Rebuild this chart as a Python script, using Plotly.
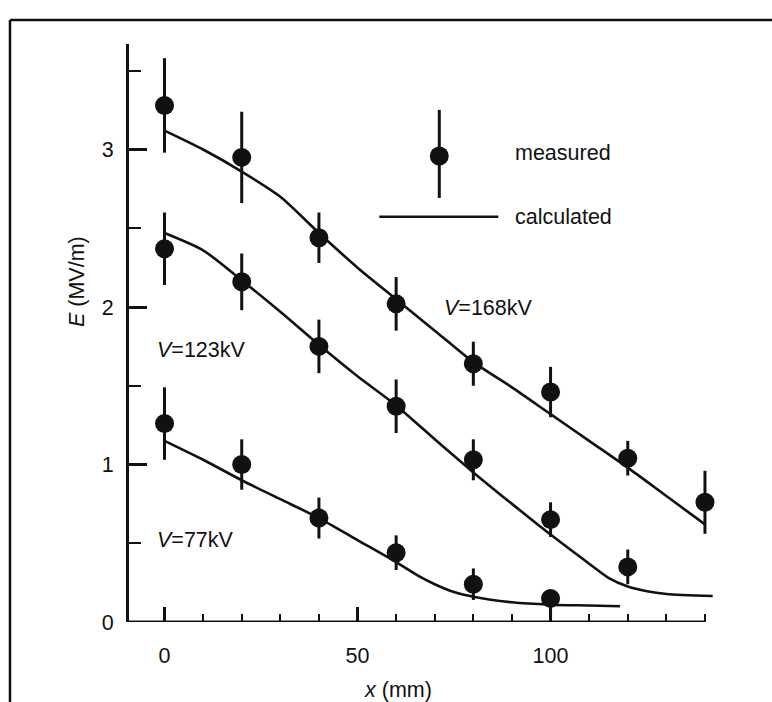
import plotly.graph_objects as go

# ---- measured field strength, E (MV/m) at position x (mm) ----
x_168 = [0, 20, 40, 60, 80, 100, 120, 140]
E_168 = [3.28, 2.95, 2.44, 2.02, 1.64, 1.46, 1.04, 0.76]
err_168 = [0.30, 0.29, 0.16, 0.17, 0.14, 0.16, 0.11, 0.20]

x_123 = [0, 20, 40, 60, 80, 100, 120]
E_123 = [2.37, 2.16, 1.75, 1.37, 1.03, 0.65, 0.35]
err_123 = [0.23, 0.18, 0.17, 0.17, 0.13, 0.11, 0.11]

x_77 = [0, 20, 40, 60, 80, 100]
E_77 = [1.26, 1.00, 0.66, 0.44, 0.24, 0.15]
err_77_plus = [0.23, 0.16, 0.13, 0.11, 0.10, 0.05]
err_77_minus = [0.23, 0.16, 0.13, 0.11, 0.10, 0.14]

# ---- calculated field strength ----
xc_168 = [0, 10, 20, 30, 40, 50, 60, 70, 80, 90, 100, 110, 120, 130, 140]
Ec_168 = [3.12, 3.00, 2.86, 2.70, 2.47, 2.25, 2.05, 1.85, 1.65, 1.49, 1.32,
          1.15, 0.98, 0.80, 0.62]

xc_123 = [0, 10, 20, 30, 40, 50, 60, 70, 80, 90, 100, 110, 115, 120, 125, 130, 142]
Ec_123 = [2.47, 2.36, 2.17, 1.97, 1.76, 1.56, 1.375, 1.16, 0.95, 0.75, 0.555,
          0.37, 0.28, 0.225, 0.195, 0.178, 0.165]

xc_77 = [0, 10, 20, 30, 40, 50, 60, 66, 70, 75, 80, 90, 100, 110, 118]
Ec_77 = [1.15, 1.03, 0.90, 0.78, 0.66, 0.52, 0.38, 0.29, 0.24, 0.19, 0.16,
         0.125, 0.11, 0.105, 0.10]

x_ticks = [0, 50, 100]
y_ticks = [0, 1, 2, 3]

INK = "#111111"
FONT = "Liberation Sans, Arial, Helvetica, sans-serif"
X_RANGE = [-9.2, 142.6]
Y_RANGE = [0, 3.67]

fig = go.Figure()

# calculated curves
for xs, ys in [(xc_168, Ec_168), (xc_123, Ec_123), (xc_77, Ec_77)]:
    fig.add_trace(go.Scatter(
        x=xs, y=ys, mode="lines",
        line=dict(color=INK, width=2.6, shape="spline", smoothing=0.7),
        hoverinfo="skip", showlegend=False,
    ))

# measured points with error bars
for xs, ys, ep, em in [
    (x_168, E_168, err_168, err_168),
    (x_123, E_123, err_123, err_123),
    (x_77, E_77, err_77_plus, err_77_minus),
]:
    fig.add_trace(go.Scatter(
        x=xs, y=ys, mode="markers",
        marker=dict(symbol="circle", size=19, color=INK, line=dict(width=0)),
        error_y=dict(type="data", symmetric=False, array=ep, arrayminus=em,
                     thickness=3, width=0, color=INK),
        showlegend=False,
    ))

shapes = [
    # x axis baseline (stops at the last tick)
    dict(type="line", xref="x", yref="y", x0=X_RANGE[0], x1=140, y0=0, y1=0,
         line=dict(color=INK, width=3)),
    # key: marker with error bar
    dict(type="line", xref="paper", yref="paper", x0=0.5295, x1=0.5295,
         y0=0.7337, y1=0.8860, line=dict(color=INK, width=3)),
    dict(type="circle", xref="paper", yref="paper", xsizemode="pixel",
         ysizemode="pixel", xanchor=0.5295, yanchor=0.8062,
         x0=-9.5, x1=9.5, y0=-9.5, y1=9.5, fillcolor=INK, line=dict(width=0)),
    # key: calculated line
    dict(type="line", xref="paper", yref="paper", x0=0.4271, x1=0.6302,
         y0=0.7012, y1=0.7012, line=dict(color=INK, width=2.6)),
    # outer frame (left and top edges)
    dict(type="line", xref="paper", yref="paper", x0=-0.2031, x1=-0.2031,
         y0=-0.2, y1=1.0415, line=dict(color=INK, width=2.5)),
    dict(type="line", xref="paper", yref="paper", x0=-0.2031, x1=1.2,
         y0=1.0415, y1=1.0415, line=dict(color=INK, width=2.5)),
]

txt = dict(family=FONT, size=21.5, color=INK)
annotations = [
    dict(text="measured", x=0.6558, y=0.8109, xanchor="left", yanchor="middle"),
    dict(text="calculated", x=0.6558, y=0.7002, xanchor="left", yanchor="middle"),
    dict(text="<i>V</i>=168kV", x=0.5336, y=0.5427, xanchor="left", yanchor="middle"),
    dict(text="<i>V</i>=123kV", x=0.0444, y=0.4706, xanchor="left", yanchor="middle"),
    dict(text="<i>V</i>=77kV", x=0.0444, y=0.1419, xanchor="left", yanchor="middle"),
    dict(text="<i>E</i> (MV/m)", x=-0.0887, y=0.5882, xanchor="center",
         yanchor="middle", textangle=-90),
    dict(text="<i>x</i> (mm)", x=0.459, y=-0.1176, xanchor="center", yanchor="middle"),
]
for a in annotations:
    a.update(xref="paper", yref="paper", showarrow=False, font=txt)

fig.update_layout(
    width=772, height=702,
    margin=dict(l=129, r=57, t=44, b=80, pad=0),
    paper_bgcolor="white", plot_bgcolor="white",
    showlegend=False,
    shapes=shapes, annotations=annotations,
    font=txt,
)

fig.update_xaxes(
    range=X_RANGE, showgrid=False, zeroline=False, showline=False,
    tickmode="array", tickvals=x_ticks, ticktext=[str(v) for v in x_ticks],
    ticks="inside", ticklen=15, tickwidth=2.5, tickcolor=INK,
    ticklabelstandoff=18, tickfont=txt,
    minor=dict(tickmode="linear", tick0=0, dtick=10, ticks="inside",
               ticklen=8, tickwidth=2, tickcolor=INK),
)
fig.update_yaxes(
    range=Y_RANGE, showgrid=False, zeroline=False,
    showline=True, linecolor=INK, linewidth=3,
    tickmode="array", tickvals=y_ticks, ticktext=[str(v) for v in y_ticks],
    ticks="inside", ticklen=18, tickwidth=2.5, tickcolor=INK,
    ticklabelstandoff=8, tickfont=txt,
    minor=dict(tickmode="linear", tick0=0, dtick=0.5, ticks="inside",
               ticklen=12, tickwidth=2, tickcolor=INK),
)

fig.write_html("out.html")
